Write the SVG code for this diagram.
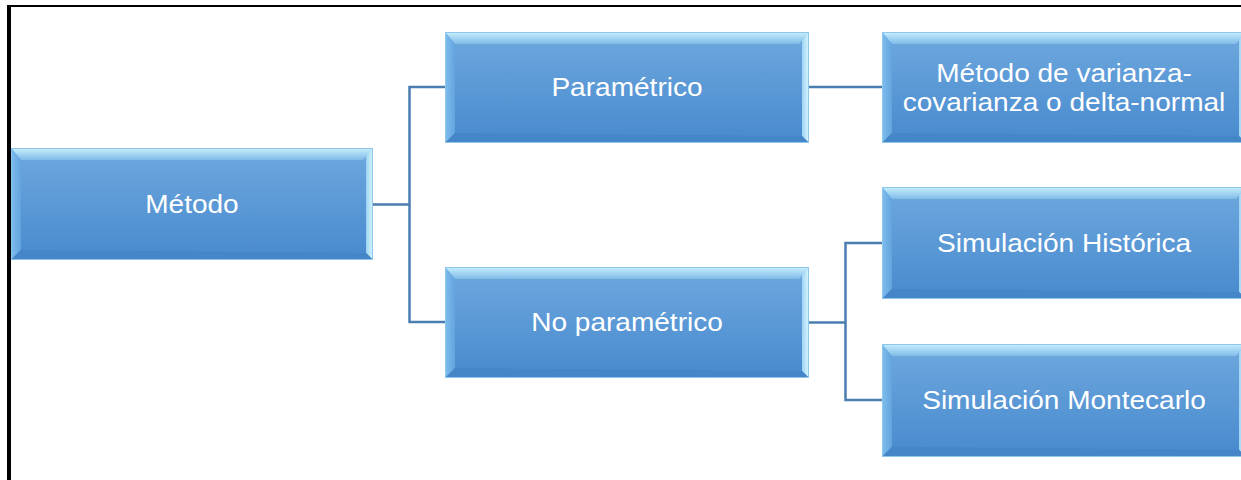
<svg xmlns="http://www.w3.org/2000/svg" xmlns:xlink="http://www.w3.org/1999/xlink" width="1241" height="480" viewBox="0 0 1241 480">
<defs>
<linearGradient id="fillG" x1="0" y1="0" x2="0" y2="1">
<stop offset="0" stop-color="#6ea8de"/>
<stop offset="1" stop-color="#488ace"/>
</linearGradient>
<linearGradient id="topG" x1="0" y1="0" x2="0" y2="1">
<stop offset="0" stop-color="#c8f0fd"/>
<stop offset="1" stop-color="#7fbbe8"/>
</linearGradient>
<linearGradient id="leftG" x1="0" y1="0" x2="1" y2="0">
<stop offset="0" stop-color="#7dbdee"/>
<stop offset="1" stop-color="#64a4de"/>
</linearGradient>
<linearGradient id="rightG" x1="0" y1="0" x2="1" y2="0">
<stop offset="0" stop-color="#9fd4f4"/>
<stop offset="1" stop-color="#d8f6fe"/>
</linearGradient>
<symbol id="box" viewBox="0 0 364 111" preserveAspectRatio="none">
<rect x="0" y="0" width="364" height="111" fill="url(#fillG)"/>
<polygon points="0,0 364,0 354,12 10,12" fill="url(#topG)"/>
<polygon points="0,0 10,12 10,101 0,111" fill="url(#leftG)"/>
<polygon points="364,0 364,111 357,104 357,8" fill="url(#rightG)"/>
<polygon points="0,111 10,101 357,104 364,111" fill="#4586c9"/>
<rect x="0.5" y="0.5" width="363" height="110" fill="none" stroke="#8ec6ec" stroke-width="1"/>
</symbol>
<style>
.lbl{font-family:"Liberation Sans",Arial,sans-serif;font-size:25.5px;fill:#ffffff;text-anchor:middle}
.con{fill:none;stroke:#4a7eb0;stroke-width:2.5}
</style>
</defs>
<rect x="0" y="0" width="1241" height="480" fill="#ffffff"/>
<g id="frame">
<line x1="9" y1="5" x2="9" y2="480" stroke="#000" stroke-width="4"/>
<line x1="7" y1="6" x2="1241" y2="6" stroke="#000" stroke-width="2"/>
</g>
<g id="connectors">
<polyline class="con" points="373,204.5 409.5,204.5"/>
<polyline class="con" points="445,87 409.5,87 409.5,322 445,322"/>
<polyline class="con" points="809,87 882,87"/>
<polyline class="con" points="809,322.5 845.5,322.5"/>
<polyline class="con" points="882,243 845.5,243 845.5,400 882,400"/>
</g>
<g id="n-metodo">
<use xlink:href="#box" x="11" y="148" width="362" height="112"/>
<text class="lbl" transform="scale(1.1 1)" x="174.5" y="213.5">Método</text>
</g>
<g id="n-parametrico">
<use xlink:href="#box" x="445" y="32" width="364" height="111"/>
<text class="lbl" transform="scale(1.1 1)" x="570" y="96">Paramétrico</text>
</g>
<g id="n-noparametrico">
<use xlink:href="#box" x="445" y="267" width="364" height="111"/>
<text class="lbl" transform="scale(1.1 1)" x="570" y="331">No paramétrico</text>
</g>
<g id="n-varianza">
<use xlink:href="#box" x="882" y="32" width="364" height="111"/>
<text class="lbl" transform="scale(1.1 1)" x="967.3" y="82">Método de varianza-</text>
<text class="lbl" transform="scale(1.1 1)" x="967.3" y="111">covarianza o delta-normal</text>
</g>
<g id="n-historica">
<use xlink:href="#box" x="882" y="187" width="364" height="112"/>
<text class="lbl" transform="scale(1.1 1)" x="967.3" y="252.5">Simulación Histórica</text>
</g>
<g id="n-montecarlo">
<use xlink:href="#box" x="882" y="344" width="364" height="113"/>
<text class="lbl" transform="scale(1.1 1)" x="967.3" y="409">Simulación Montecarlo</text>
</g>
</svg>
